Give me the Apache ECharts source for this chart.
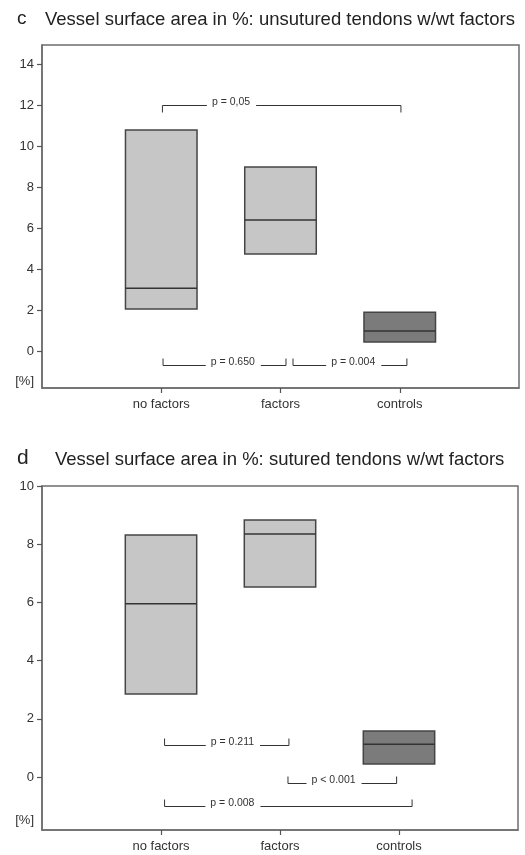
<!DOCTYPE html>
<html><head><meta charset="utf-8">
<script src="https://cdn.jsdelivr.net/npm/echarts@6/dist/echarts.min.js"></script>
<style>html,body{margin:0;padding:0;background:#fff}#c{width:525px;height:855px}</style>
</head><body><div id="c"></div>
<script>
// ---- data ----
const categories = ['no factors', 'factors', 'controls'];
const yTicksC = [0, 2, 4, 6, 8, 10, 12, 14];
const yTicksD = [0, 2, 4, 6, 8, 10];
const unitLabel = '[%]';

// panel c: unsutured tendons (box: lower quartile, median, upper quartile)
const boxLowC  = [2.05, 4.73, 0.44];
const boxMedC  = [3.07, 6.39, 0.98];
const boxHighC = [10.78, 8.98, 1.90];
// panel d: sutured tendons
const boxLowD  = [2.85, 6.53, 0.45];
const boxMedD  = [5.95, 8.35, 1.13];
const boxHighD = [8.32, 8.83, 1.58];

// significance brackets (x in category units 1..3, level in %)
const bracketLabelsC = ['p = 0,05', 'p = 0.650', 'p = 0.004'];
const bracketFromC   = [1.01, 1.015, 2.105];
const bracketToC     = [3.01, 2.046, 3.06];
const bracketLevelC  = [12, -0.68, -0.68];
const bracketTextAtC = [1.585, 1.60, 2.61];
const bracketUpC     = [-1, 1, 1];

const bracketLabelsD = ['p = 0.211', 'p < 0.001', 'p = 0.008'];
const bracketFromD   = [1.03, 2.067, 1.03];
const bracketToD     = [2.075, 2.98, 3.11];
const bracketLevelD  = [1.10, -0.21, -1.0];
const bracketTextAtD = [1.60, 2.45, 1.60];
const bracketUpD     = [1, 1, 1];

// ---- styles ----
const boxFill = ['#c6c6c6', '#c6c6c6', '#7b7b7b'];
const FONT = '"Liberation Sans", Arial, sans-serif';
const PFONT = '10.5px ' + FONT;
const frameColor = '#6e6e6e';
const textColor = '#333';

const mctx = document.createElement('canvas').getContext('2d');
function measure(t, font) { mctx.font = font; return mctx.measureText(t).width; }

function boxRender(params, api) {
  const x = api.value(0);
  const lo = api.coord([x, api.value(1)]);
  const md = api.coord([x, api.value(2)]);
  const hi = api.coord([x, api.value(3)]);
  const w = api.size([0.6, 0])[0];
  return {
    type: 'group',
    children: [
      { type: 'rect', shape: { x: lo[0] - w / 2, y: hi[1], width: w, height: lo[1] - hi[1] },
        style: { fill: boxFill[params.dataIndex], stroke: '#454545', lineWidth: 1.5 } },
      { type: 'line', shape: { x1: lo[0] - w / 2, y1: md[1], x2: lo[0] + w / 2, y2: md[1] },
        style: { stroke: '#333', lineWidth: 1.5 } }
    ]
  };
}

function bracketRender(labels) {
  return function (params, api) {
    const a = api.coord([api.value(0), api.value(2)]);
    const b = api.coord([api.value(1), api.value(2)]);
    const t = api.coord([api.value(3), api.value(2)]);
    const h = 7 * api.value(4);
    const label = labels[params.dataIndex];
    const tw = measure(label, PFONT);
    const l1 = t[0] - tw / 2 - 5, r1 = t[0] + tw / 2 + 6;
    const y = Math.round(a[1]) + 0.5;
    return {
      type: 'group',
      children: [
        { type: 'polyline', shape: { points: [[a[0], y - h], [a[0], y], [l1, y]] },
          style: { stroke: '#333', lineWidth: 1, fill: null } },
        { type: 'polyline', shape: { points: [[r1, y], [b[0], y], [b[0], y - h]] },
          style: { stroke: '#333', lineWidth: 1, fill: null } },
        { type: 'text', style: { text: label, x: t[0], y: y - 3.5, align: 'center', verticalAlign: 'middle',
          font: PFONT, fill: '#333' } }
      ]
    };
  };
}

function boxData(lo, md, hi) { return categories.map((c, i) => [i + 1, lo[i], md[i], hi[i]]); }
function bracketData(f, t, l, at, up) { return f.map((v, i) => [v, t[i], l[i], at[i], up[i]]); }

function xAxisFor(idx) {
  return {
    gridIndex: idx, type: 'value', min: 0, max: 4, position: 'bottom',
    axisLine: { show: true, onZero: false, lineStyle: { color: frameColor, width: 1.5 } },
    splitLine: { show: false },
    axisTick: { show: true, customValues: [1, 2, 3], length: 5, lineStyle: { color: '#555', width: 1.2 } },
    axisLabel: { customValues: [1, 2, 3], formatter: v => categories[v - 1] || '',
      color: textColor, fontSize: 13, fontFamily: FONT, margin: 10 }
  };
}
function yAxisFor(idx, min, max, ticks) {
  return {
    gridIndex: idx, type: 'value', min: min, max: max, position: 'left',
    axisLine: { show: true, onZero: false, lineStyle: { color: frameColor, width: 1.5 } },
    splitLine: { show: false },
    axisTick: { show: true, customValues: ticks, length: 5, lineStyle: { color: '#555', width: 1.2 } },
    axisLabel: { customValues: [-1.5].concat(ticks), formatter: v => (v === -1.5 ? unitLabel : String(v)),
      color: textColor, fontSize: 13, fontFamily: FONT, margin: 8 }
  };
}

const chart = echarts.init(document.getElementById('c'), null, { renderer: 'canvas' });
chart.setOption({
  animation: false,
  backgroundColor: '#fff',
  grid: [
    { left: 42, top: 45, width: 477, height: 343, show: true, borderColor: frameColor, borderWidth: 1.5, backgroundColor: '#fff' },
    { left: 42, top: 486, width: 476, height: 344, show: true, borderColor: frameColor, borderWidth: 1.5, backgroundColor: '#fff' }
  ],
  xAxis: [xAxisFor(0), xAxisFor(1)],
  yAxis: [yAxisFor(0, -1.8, 14.93, yTicksC), yAxisFor(1, -1.82, 10, yTicksD)],
  graphic: [
    { type: 'text', left: 17, top: 9, style: { text: 'c', font: '19px ' + FONT, fill: '#222' } },
    { type: 'text', left: 45, top: 10, style: { text: 'Vessel surface area in %: unsutured tendons w/wt factors', font: '18.5px ' + FONT, fill: '#222' } },
    { type: 'text', left: 17, top: 448, style: { text: 'd', font: '21px ' + FONT, fill: '#222' } },
    { type: 'text', left: 55, top: 450, style: { text: 'Vessel surface area in %: sutured tendons w/wt factors', font: '18.5px ' + FONT, fill: '#222' } }
  ],
  series: [
    { type: 'custom', xAxisIndex: 0, yAxisIndex: 0, renderItem: boxRender, encode: { x: 0, y: [1, 2, 3] },
      data: boxData(boxLowC, boxMedC, boxHighC) },
    { type: 'custom', xAxisIndex: 0, yAxisIndex: 0, renderItem: bracketRender(bracketLabelsC), encode: { x: [0, 1, 3], y: 2 },
      data: bracketData(bracketFromC, bracketToC, bracketLevelC, bracketTextAtC, bracketUpC) },
    { type: 'custom', xAxisIndex: 1, yAxisIndex: 1, renderItem: boxRender, encode: { x: 0, y: [1, 2, 3] },
      data: boxData(boxLowD, boxMedD, boxHighD) },
    { type: 'custom', xAxisIndex: 1, yAxisIndex: 1, renderItem: bracketRender(bracketLabelsD), encode: { x: [0, 1, 3], y: 2 },
      data: bracketData(bracketFromD, bracketToD, bracketLevelD, bracketTextAtD, bracketUpD) }
  ]
});
</script></body></html>
